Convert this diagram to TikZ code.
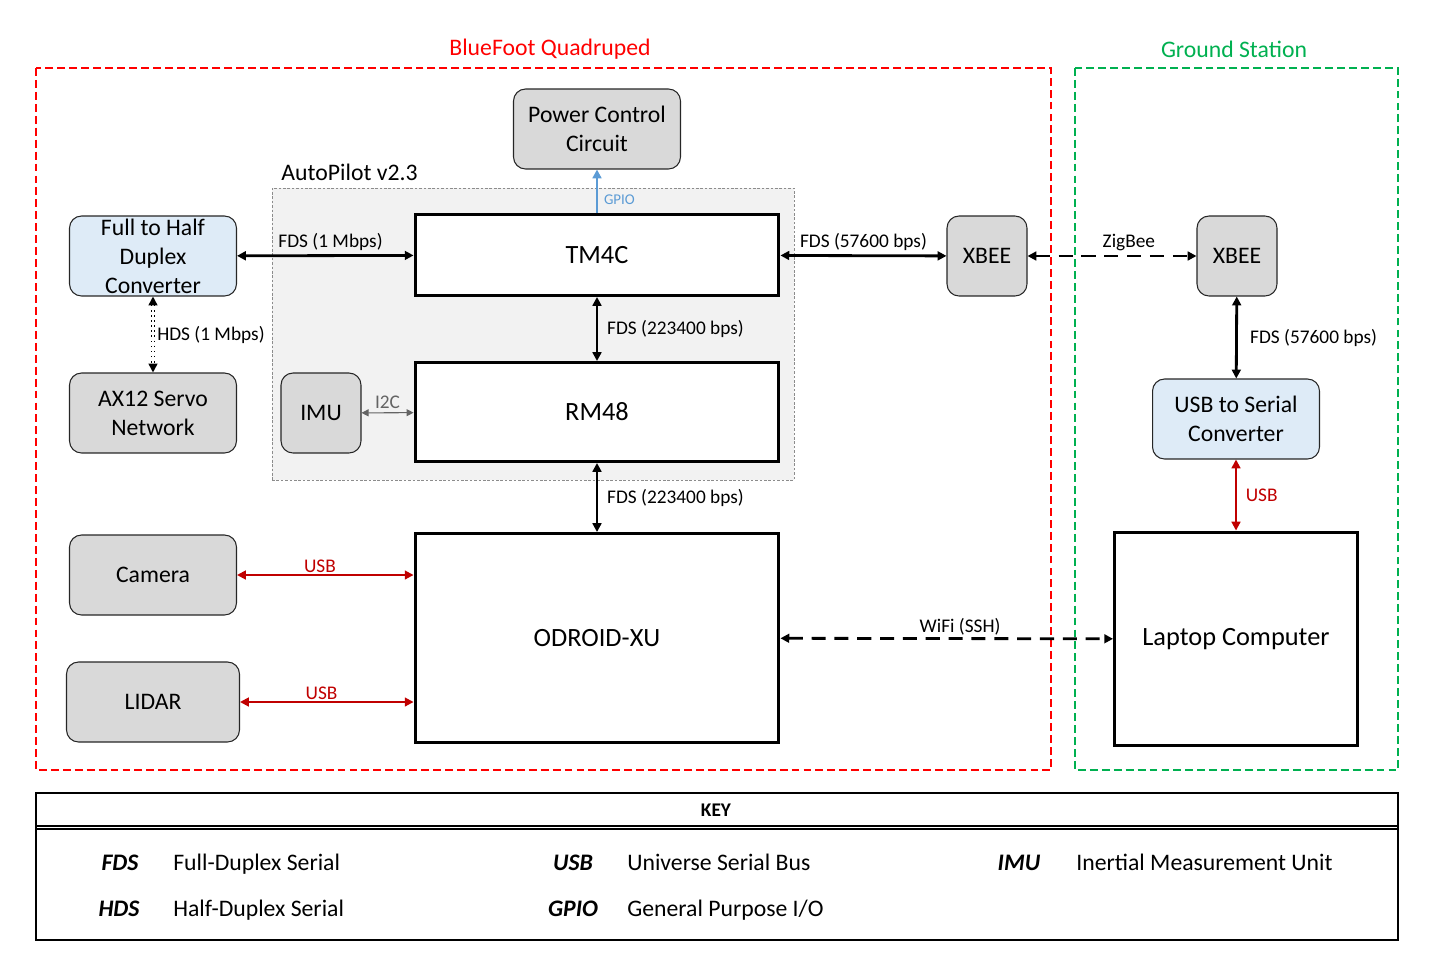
\documentclass[tikz,border=0pt]{standalone}
\usepackage{fontspec}
\setmainfont{Carlito}
\usetikzlibrary{arrows.meta}
\definecolor{qpred}{RGB}{255,0,0}
\definecolor{gsgreen}{RGB}{0,176,80}
\definecolor{usbred}{RGB}{192,0,0}
\definecolor{gpioblue}{RGB}{91,155,213}
\definecolor{boxgray}{RGB}{217,217,217}
\definecolor{boxblue}{RGB}{222,235,247}
\definecolor{panelgray}{RGB}{242,242,242}
\definecolor{i2cgray}{RGB}{100,100,100}
\begin{document}
\begin{tikzpicture}
        [x=0.02cm,y=-0.02cm,
         box/.style={rounded corners=0.24cm,draw=black!85,line width=0.6pt,align=center,
                     inner sep=0pt,font=\fontsize{13.5}{16.5}\selectfont},
         graybox/.style={box,fill=boxgray},
         bluebox/.style={box,fill=boxblue},
         chip/.style={draw,line width=1.7pt,fill=white,inner sep=0pt,font=\fontsize{15}{18}\selectfont},
         lbl/.style={font=\fontsize{11}{12}\selectfont,inner sep=2pt},
         fds/.style={{Triangle[length=5pt,width=5pt]}-{Triangle[length=5pt,width=5pt]},line width=1.6pt},
         usb/.style={{Triangle[length=5pt,width=5pt]}-{Triangle[length=5pt,width=5pt]},line width=1.1pt,draw=usbred},
         wireless/.style={fds,dash pattern=on 8pt off 5pt},
         keyfont/.style={font=\fontsize{13.5}{16}\selectfont,inner sep=0pt,anchor=base west},
         keyabbr/.style={font=\bfseries\itshape\fontsize{13.5}{16}\selectfont,inner sep=0pt,anchor=base}]
        \useasboundingbox (0,0) rectangle (1440,960);
        % frames
        \draw[qpred,line width=1.5pt,dash pattern=on 4.5pt off 2.3pt] (36,68) rectangle (1051,770);
        \draw[gsgreen,line width=1.5pt,dash pattern=on 4.5pt off 2.3pt] (1075,68) rectangle (1398,770);
        \node[text=qpred,font=\fontsize{13.5}{16}\selectfont] (qp) at (550,49) {BlueFoot Quadruped};
        \node[text=gsgreen,font=\fontsize{13.5}{16}\selectfont] (gs) at (1234,49) {Ground Station};
        % autopilot board
        \node[draw=black!45,fill=panelgray,line width=0.5pt,dash pattern=on 1.5pt off 1pt,
              minimum width=10.44cm,minimum height=5.84cm] (ap) at (533,334) {};
        \node[anchor=south west,font=\fontsize{13.5}{16}\selectfont,inner sep=2pt] (aplabel)
              at ([xshift=0.12cm,yshift=0.06cm]ap.north west) {AutoPilot v2.3};
        % blocks
        \node[graybox,minimum width=3.34cm,minimum height=1.6cm] (pcc) at (597,129) {Power Control\\Circuit};
        \node[chip,minimum width=7.28cm,minimum height=1.62cm] (tm4c) at (597,255) {TM4C};
        \node[chip,minimum width=7.28cm,minimum height=1.98cm] (rm48) at (597,412) {RM48};
        \node[chip,minimum width=7.28cm,minimum height=4.18cm] (odroid) at (597,638) {ODROID-XU};
        \node[graybox,minimum width=1.6cm,minimum height=1.6cm] (imu) at (321,413) {IMU};
        \node[bluebox,minimum width=3.34cm,minimum height=1.6cm] (fhc) at (153,256) {Full to Half\\Duplex\\Converter};
        \node[graybox,minimum width=3.34cm,minimum height=1.6cm] (ax12) at (153,413) {AX12 Servo\\Network};
        \node[graybox,minimum width=3.34cm,minimum height=1.6cm] (cam) at (153,575) {Camera};
        \node[graybox,minimum width=3.46cm,minimum height=1.6cm] (lidar) at (153,702) {LIDAR};
        \node[graybox,minimum width=1.6cm,minimum height=1.6cm] (xbee1) at (987,256) {XBEE};
        \node[graybox,minimum width=1.6cm,minimum height=1.6cm] (xbee2) at (1237,256) {XBEE};
        \node[bluebox,minimum width=3.34cm,minimum height=1.6cm] (u2s) at (1236,419) {USB to Serial\\Converter};
        \node[chip,minimum width=4.86cm,minimum height=4.28cm] (laptop) at (1236,639) {Laptop Computer};
        % links
        \draw[fds] (fhc) -- (tm4c) node[lbl,pos=0.53,above] {FDS (1 Mbps)};
        \draw[fds] (tm4c) -- (xbee1) node[lbl,midway,above] {FDS (57600 bps)};
        \draw[wireless] (xbee1) -- (xbee2) node[lbl,pos=0.6,above] {ZigBee};
        \draw[fds] (tm4c) -- (rm48) node[lbl,midway,right,xshift=3pt] {FDS (223400 bps)};
        \draw[fds] (rm48) -- (odroid) node[lbl,midway,right,xshift=3pt] {FDS (223400 bps)};
        \draw[gpioblue,line width=1.3pt,-{Triangle[length=5pt,width=5pt]}] (tm4c) -- (pcc)
              node[pos=0.3,right,text=gpioblue,font=\fontsize{8.5}{10}\selectfont] {GPIO};
        \draw[i2cgray,line width=0.6pt,{Triangle[length=4pt,width=4pt]}-{Triangle[length=4pt,width=4pt]}] (imu) -- (rm48)
              node[midway,above,text=i2cgray,font=\fontsize{11}{12}\selectfont,inner sep=2pt] {I2C};
        \draw[line width=0.9pt,double distance=1pt,dotted,{Triangle[length=5pt,width=5pt]}-{Triangle[length=5pt,width=5pt]}] (fhc) -- (ax12)
              node[lbl,midway,right,inner sep=1pt,xshift=1pt] {HDS (1 Mbps)};
        \draw[usb] (cam) -- (cam -| odroid.west) node[lbl,pos=0.47,above,text=usbred,inner sep=1pt] {USB};
        \draw[usb] (lidar) -- (lidar -| odroid.west) node[lbl,pos=0.47,above,text=usbred,inner sep=1pt] {USB};
        \draw[wireless] (odroid) -- (laptop) node[lbl,pos=0.54,above,inner sep=1pt] {WiFi (SSH)};
        \draw[fds] (xbee2) -- (u2s) node[lbl,midway,right,xshift=5pt] {FDS (57600 bps)};
        \draw[usb] (u2s) -- (laptop) node[lbl,midway,right,text=usbred,xshift=3pt] {USB};
        % key
        \draw[line width=0.6pt] (36,793) rectangle (1398,940);
        \draw[line width=0.6pt] (36,826) -- (1398,826);
        \draw[line width=0.6pt] (36,829) -- (1398,829);
        \node[font=\bfseries\fontsize{11}{12}\selectfont] (key) at (716,810) {KEY};
        \node[keyabbr] (kfds) at (120,870) {FDS};
        \node[keyfont] (kfdst) at (173,870) {Full-Duplex Serial};
        \node[keyabbr] (khds) at (119,916) {HDS};
        \node[keyfont] (khdst) at (173,916) {Half-Duplex Serial};
        \node[keyabbr] (kusb) at (573,870) {USB};
        \node[keyfont] (kusbt) at (627,870) {Universe Serial Bus};
        \node[keyabbr] (kgpio) at (573,916) {GPIO};
        \node[keyfont] (kgpiot) at (627,916) {General Purpose I/O};
        \node[keyabbr] (kimu) at (1019,870) {IMU};
        \node[keyfont] (kimut) at (1076,870) {Inertial Measurement Unit};
      \end{tikzpicture}
\end{document}
